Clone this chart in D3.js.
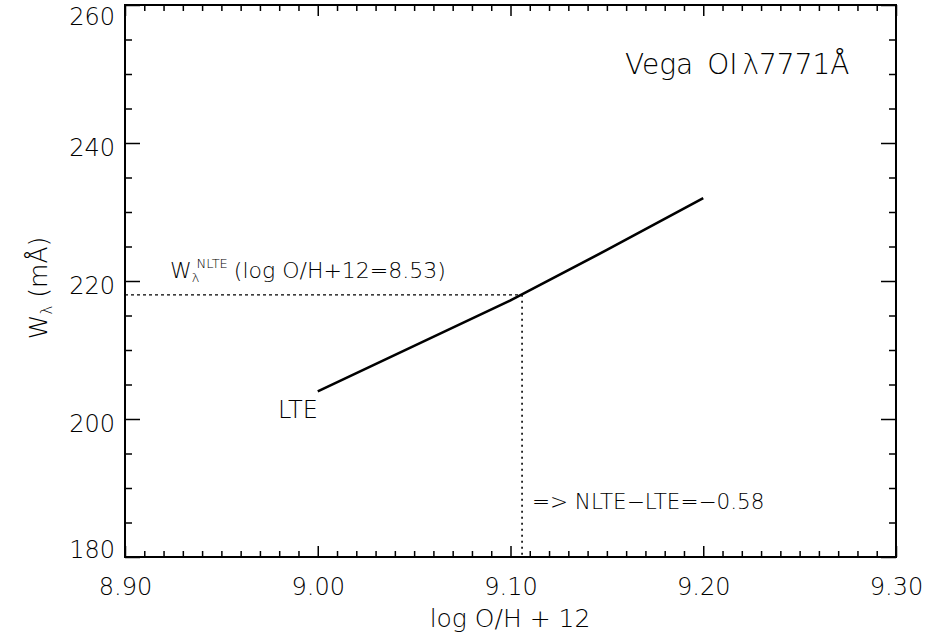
<!DOCTYPE html>
<html>
<head>
<meta charset="utf-8">
<script src="https://cdn.jsdelivr.net/npm/d3@7"></script>
<style>
  html, body { margin: 0; padding: 0; background: #fff; }
  svg { display: block; font-family: "DejaVu Sans", sans-serif; font-weight: 200; }
  text { fill: #000; }
</style>
</head>
<body>
<svg id="chart" width="944" height="638"></svg>
<script>
// Oxygen abundance (log O/H + 12) vs. equivalent width of the O I 7771 line (LTE curve)
const abundance = [9.00, 9.05, 9.10, 9.15, 9.20];
const eqWidth   = [204.0, 210.6, 217.2, 224.5, 232.0];

// NLTE equivalent width and the LTE abundance that reproduces it
const nlteWidth = 218.0;
const lteAbundance = 9.106;

const xMajorTicks = [8.90, 9.00, 9.10, 9.20, 9.30];
const yMajorTicks = [180, 200, 220, 240, 260];

const xDomain = [8.90, 9.30];
const yDomain = [180, 260];

const svg = d3.select("#chart");
const m = { left: 125, right: 896, top: 5, bottom: 557 };

const x = d3.scaleLinear().domain(xDomain).range([m.left, m.right]);
const y = d3.scaleLinear().domain(yDomain).range([m.bottom, m.top]);

const xMinor = d3.range(0, 41).map(i => +(8.90 + i * 0.01).toFixed(2))
  .filter(v => !xMajorTicks.some(t => Math.abs(t - v) < 1e-6));
const yMinor = d3.range(180, 261, 5).filter(v => v % 20 !== 0);

function styleAxis(g) {
  g.attr("font-family", null).attr("font-size", null);
  g.select(".domain").remove();
  g.selectAll(".tick line").attr("stroke", "#000").attr("stroke-width", 1.5);
}

// inward ticks on all four sides
svg.append("g").attr("transform", `translate(0,${m.bottom})`)
  .call(d3.axisBottom(x).tickValues(xMinor).tickSize(-6).tickFormat("")).call(styleAxis);
svg.append("g").attr("transform", `translate(0,${m.top})`)
  .call(d3.axisTop(x).tickValues(xMinor).tickSize(-6).tickFormat("")).call(styleAxis);
svg.append("g").attr("transform", `translate(0,${m.top})`)
  .call(d3.axisTop(x).tickValues(xMajorTicks).tickSize(-11).tickFormat("")).call(styleAxis);
svg.append("g").attr("transform", `translate(${m.left},0)`)
  .call(d3.axisLeft(y).tickValues(yMinor).tickSize(-7).tickFormat("")).call(styleAxis);
svg.append("g").attr("transform", `translate(${m.right},0)`)
  .call(d3.axisRight(y).tickValues(yMinor).tickSize(-7).tickFormat("")).call(styleAxis);
svg.append("g").attr("transform", `translate(${m.right},0)`)
  .call(d3.axisRight(y).tickValues(yMajorTicks).tickSize(-15).tickFormat("")).call(styleAxis);

// labelled bottom axis
const xAx = svg.append("g").attr("transform", `translate(0,${m.bottom})`)
  .call(d3.axisBottom(x).tickValues(xMajorTicks).tickSize(-11).tickPadding(21)
    .tickFormat(d3.format(".2f")))
  .call(styleAxis);
xAx.selectAll("text").attr("font-size", 24);

// labelled left axis
const yAx = svg.append("g").attr("transform", `translate(${m.left},0)`)
  .call(d3.axisLeft(y).tickValues(yMajorTicks).tickSize(-15).tickPadding(10)
    .tickFormat(d3.format("d")))
  .call(styleAxis);
yAx.selectAll("text").attr("font-size", 24)
  .attr("dy", d => d === 260 ? 19.5 : d === 180 ? 0 : 12);

// plot frame
svg.append("rect")
  .attr("x", m.left).attr("y", m.top)
  .attr("width", m.right - m.left).attr("height", m.bottom - m.top)
  .attr("fill", "none").attr("stroke", "#000").attr("stroke-width", 2);

// LTE curve
const line = d3.line().x(d => x(d[0])).y(d => y(d[1]));
svg.append("path")
  .datum(abundance.map((a, i) => [a, eqWidth[i]]))
  .attr("d", line)
  .attr("fill", "none").attr("stroke", "#000").attr("stroke-width", 2.6);

// dotted guides at the NLTE width
svg.append("line")
  .attr("x1", x(xDomain[0])).attr("x2", x(lteAbundance))
  .attr("y1", y(nlteWidth)).attr("y2", y(nlteWidth))
  .attr("stroke", "#000").attr("stroke-width", 1.2).attr("stroke-dasharray", "3,3");
svg.append("line")
  .attr("x1", x(lteAbundance)).attr("x2", x(lteAbundance))
  .attr("y1", y(nlteWidth)).attr("y2", y(yDomain[0]))
  .attr("stroke", "#000").attr("stroke-width", 1.6).attr("stroke-dasharray", "2,4");

// annotations
const title = svg.append("text").attr("x", 625).attr("y", 74).attr("font-size", 28);
title.append("tspan").text("Vega");
title.append("tspan").attr("dx", 14).text("OI");
title.append("tspan").attr("dx", 5).text("λ7771Å");

svg.append("text").attr("x", 278).attr("y", 418).attr("font-size", 24).text("LTE");

const wl = svg.append("text").attr("x", 170).attr("y", 278).attr("font-size", 22);
wl.append("tspan").text("W");
wl.append("tspan").attr("font-size", 13).attr("dy", 4).text("λ");
wl.append("tspan").attr("font-size", 13).attr("dx", -3).attr("dy", -14).text("NLTE");
wl.append("tspan").attr("dy", 10).attr("dx", 6).text("(log O/H+12=8.53)");

svg.append("text").attr("x", 532).attr("y", 509).attr("font-size", 21.5)
  .text("=> NLTE\u2212LTE=\u22120.58");

// axis titles
svg.append("text").attr("x", 510).attr("y", 627).attr("font-size", 25)
  .attr("text-anchor", "middle").text("log O/H + 12");

const yt = svg.append("text")
  .attr("transform", "translate(47,288) rotate(-90)")
  .attr("text-anchor", "middle").attr("font-size", 25);
yt.append("tspan").text("W");
yt.append("tspan").attr("font-size", 15).attr("dy", 5).text("λ");
yt.append("tspan").attr("dy", -5).text(" (mÅ)");
</script>
</body>
</html>
